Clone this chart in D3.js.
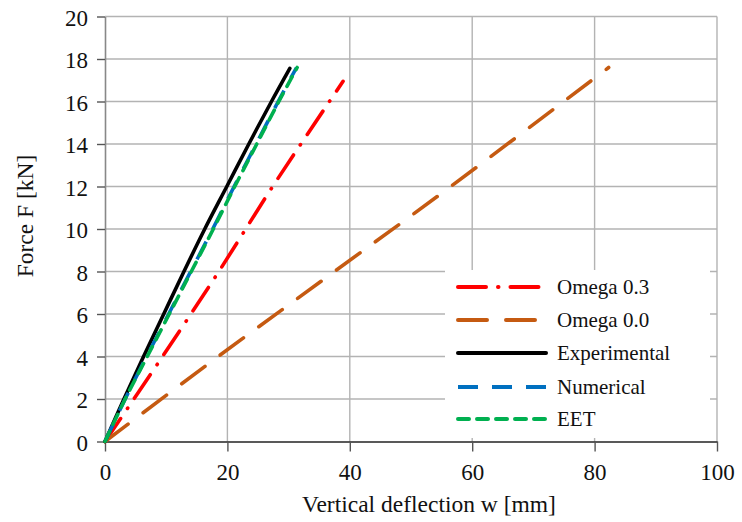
<!DOCTYPE html>
<html>
<head>
<meta charset="utf-8">
<script src="https://cdn.jsdelivr.net/npm/d3@7"></script>
<style>
  body { margin: 0; background: #fff; }
  text { font-family: "Liberation Serif", "Times New Roman", serif; fill: #111; }
</style>
</head>
<body>
<svg id="chart" width="742" height="522"></svg>
<script>
// values
var xTicks = [0, 20, 40, 60, 80, 100]
var yTicks = [0, 2, 4, 6, 8, 10, 12, 14, 16, 18, 20]

var omega03 = [[0, 0], [9.4, 4], [18.6, 8], [27.4, 12], [38.9, 16.95]]
var omega00 = [[0, 0], [18.5, 4], [37.5, 8], [56.5, 12], [82.3, 17.6]]
var experimental = [[0, 0], [3.1, 2], [6.3, 4], [9.6, 6], [12.9, 8], [16.3, 10], [19.9, 12], [23.5, 14], [27.2, 16], [30.2, 17.56]]
var numerical = [[0, 0], [3.3, 2], [6.8, 4], [10.4, 6], [14.0, 8], [17.6, 10], [21.1, 12], [24.7, 14], [28.3, 16], [31.3, 17.6]]
var eet = [[0, 0], [3.3, 2], [6.9, 4], [10.5, 6], [14.1, 8], [17.7, 10], [21.2, 12], [24.8, 14], [28.4, 16], [31.4, 17.6]]

var seriesNames = ["Omega 0.3", "Omega 0.0", "Experimental", "Numerical", "EET"]

var styles = {
  "Omega 0.3":    { data: omega03, color: "#ff0000", dash: "28,12,0.5,12", cap: "round" },
  "Omega 0.0":    { data: omega00, color: "#c55a11", dash: "29,19", cap: "round" },
  "Experimental": { data: experimental, color: "#000000", dash: null, cap: "round" },
  "Numerical":    { data: numerical, color: "#0070c0", dash: "20,14", cap: "butt" },
  "EET":          { data: eet, color: "#00b050", dash: "11,8", cap: "round" }
}

var svg = d3.select("#chart")
var margin = { left: 105, top: 16.5, right: 25, bottom: 80.5 }
var width = 742 - margin.left - margin.right
var height = 522 - margin.top - margin.bottom

var x = d3.scaleLinear().domain([0, 100]).range([0, width])
var y = d3.scaleLinear().domain([0, 20]).range([height, 0])

var g = svg.append("g").attr("transform", "translate(" + margin.left + "," + margin.top + ")")

// grid
g.append("g").selectAll("line").data(yTicks.slice(1))
  .enter().append("line")
  .attr("x1", 0).attr("x2", width)
  .attr("y1", d => y(d)).attr("y2", d => y(d))
  .attr("stroke", "#b3b3b3").attr("stroke-width", 1.4)
g.append("g").selectAll("line").data(xTicks.slice(1))
  .enter().append("line")
  .attr("x1", d => x(d)).attr("x2", d => x(d))
  .attr("y1", 0).attr("y2", height)
  .attr("stroke", "#b3b3b3").attr("stroke-width", 1.4)

// axes
var xAxis = g.append("g").attr("transform", "translate(0," + height + ")")
  .call(d3.axisBottom(x).tickValues(xTicks).tickSize(10).tickSizeOuter(0))
var yAxis = g.append("g")
  .call(d3.axisLeft(y).tickValues(yTicks).tickSize(8).tickSizeOuter(0))

xAxis.select(".domain").attr("stroke", "#222").attr("stroke-width", 1.6)
xAxis.selectAll(".tick line").attr("stroke", "#555").attr("stroke-width", 1.4)
xAxis.selectAll(".tick text").attr("font-size", 23).attr("dy", "1.1em")
  .attr("font-family", "Liberation Serif").attr("fill", "#111")

yAxis.select(".domain").attr("stroke", "#888").attr("stroke-width", 1.6)
yAxis.selectAll(".tick line").attr("stroke", "#555").attr("stroke-width", 1.4)
yAxis.selectAll(".tick text").attr("font-size", 23).attr("x", -17).attr("dy", "0.38em")
  .attr("font-family", "Liberation Serif").attr("fill", "#111")

// legend background, drawn before the lines
g.append("rect")
  .attr("x", 445 - margin.left).attr("y", 270 - margin.top)
  .attr("width", 265).attr("height", 168)
  .attr("fill", "#fff")

// series
var line = d3.line().x(d => x(d[0])).y(d => y(d[1])).curve(d3.curveCatmullRom)

seriesNames.forEach(function(name) {
  var s = styles[name]
  g.append("path")
    .datum(s.data)
    .attr("d", line)
    .attr("fill", "none")
    .attr("stroke", s.color)
    .attr("stroke-width", 3.6)
    .attr("stroke-linecap", s.cap)
    .attr("stroke-dasharray", s.dash)
})

// legend
var legendRows = [287, 320, 353, 387, 419]
var legend = svg.append("g")
seriesNames.forEach(function(name, i) {
  var s = styles[name]
  legend.append("line")
    .attr("x1", 458).attr("x2", 546)
    .attr("y1", legendRows[i]).attr("y2", legendRows[i])
    .attr("stroke", s.color)
    .attr("stroke-width", 4)
    .attr("stroke-linecap", s.cap)
    .attr("stroke-dasharray", s.dash)
  legend.append("text")
    .attr("x", 557).attr("y", legendRows[i])
    .attr("dy", "0.35em")
    .attr("font-size", 21)
    .text(name)
})

// axis titles
svg.append("text")
  .attr("x", 429).attr("y", 512)
  .attr("text-anchor", "middle")
  .attr("font-size", 23.5)
  .text("Vertical deflection w [mm]")

svg.append("text")
  .attr("transform", "translate(33,216) rotate(-90)")
  .attr("text-anchor", "middle")
  .attr("font-size", 23.5)
  .text("Force F [kN]")
</script>
</body>
</html>
